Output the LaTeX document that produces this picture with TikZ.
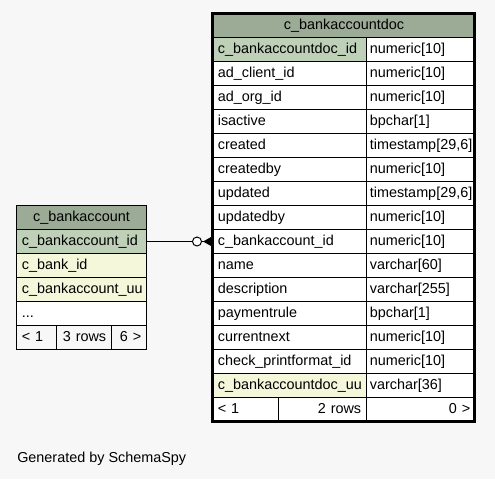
\documentclass[tikz,border=0pt]{standalone}
\usepackage{fontspec}
\setmainfont{Liberation Sans}
\usepackage{xcolor}
\definecolor{diagbg}{HTML}{F7F7F7}
\definecolor{headfill}{HTML}{9BAB96}
\definecolor{pkfill}{HTML}{BED1B8}
\definecolor{idxfill}{HTML}{F4F7DA}
\definecolor{footfill}{HTML}{F7F7F7}

\begin{document}
\begin{tikzpicture}[x=0.75pt,y=0.75pt,yscale=-1,xscale=1,
    cellbase/.style={draw, line width=0.75pt, anchor=north west, minimum height=18pt, inner xsep=4pt, inner ysep=0pt, text height=8pt, text depth=2.5pt, font=\fontsize{10.8}{12.6}\selectfont},
    headcell/.style={cellbase, fill=headfill, minimum width=#1, align=center},
    namecell/.style={cellbase, fill=white, text width=#1, align=left},
    typecell/.style={cellbase, fill=white, inner xsep=2.5pt, text width=76.75pt, align=left},
    rcell/.style={cellbase, fill=white, text width=#1, align=right}]
    %set diagram to 495 x 479
    \fill [diagbg] (0,0) rectangle (495,479);

    %Table: c_bankaccount
    \node [headcell=97.5pt] (ba) at (16,205) {c\_bankaccount};
    \node [namecell=89.5pt, fill=pkfill] (baid) at (16,229) {c\_bankaccount\_id};
    \node [namecell=89.5pt, fill=idxfill] (babank) at (16,253) {c\_bank\_id};
    \node [namecell=89.5pt, fill=idxfill] (bauu) at (16,277) {c\_bankaccount\_uu};
    \node [namecell=89.5pt] (bamore) at (16,301) {...};
    \node [namecell=22pt, fill=footfill] (baprev) at (16,325) {< 1};
    \node [rcell=33.25pt, fill=footfill] (barows) at (56,325) {3 rows};
    \node [rcell=18.25pt, fill=footfill] (banext) at (111,325) {6 >};

    %Table: c_bankaccountdoc
    \node [headcell=197.25pt] (doc) at (212,13) {c\_bankaccountdoc};
    \node [namecell=107.5pt, fill=pkfill] (docid) at (212,37) {c\_bankaccountdoc\_id};
    \node [typecell] (docidt) at (366,37) {numeric[10]};
    \node [namecell=107.5pt] (docclient) at (212,61) {ad\_client\_id};
    \node [typecell] (docclientt) at (366,61) {numeric[10]};
    \node [namecell=107.5pt] (docorg) at (212,85) {ad\_org\_id};
    \node [typecell] (docorgt) at (366,85) {numeric[10]};
    \node [namecell=107.5pt] (docactive) at (212,109) {isactive};
    \node [typecell] (docactivet) at (366,109) {bpchar[1]};
    \node [namecell=107.5pt] (doccreated) at (212,133) {created};
    \node [typecell] (doccreatedt) at (366,133) {timestamp[29,6]};
    \node [namecell=107.5pt] (doccreatedby) at (212,157) {createdby};
    \node [typecell] (doccreatedbyt) at (366,157) {numeric[10]};
    \node [namecell=107.5pt] (docupdated) at (212,181) {updated};
    \node [typecell] (docupdatedt) at (366,181) {timestamp[29,6]};
    \node [namecell=107.5pt] (docupdatedby) at (212,205) {updatedby};
    \node [typecell] (docupdatedbyt) at (366,205) {numeric[10]};
    \node [namecell=107.5pt] (docbaid) at (212,229) {c\_bankaccount\_id};
    \node [typecell] (docbaidt) at (366,229) {numeric[10]};
    \node [namecell=107.5pt] (docname) at (212,253) {name};
    \node [typecell] (docnamet) at (366,253) {varchar[60]};
    \node [namecell=107.5pt] (docdesc) at (212,277) {description};
    \node [typecell] (docdesct) at (366,277) {varchar[255]};
    \node [namecell=107.5pt] (docrule) at (212,301) {paymentrule};
    \node [typecell] (docrulet) at (366,301) {bpchar[1]};
    \node [namecell=107.5pt] (docnext) at (212,325) {currentnext};
    \node [typecell] (docnextt) at (366,325) {numeric[10]};
    \node [namecell=107.5pt] (docformat) at (212,349) {check\_printformat\_id};
    \node [typecell] (docformatt) at (366,349) {numeric[10]};
    \node [namecell=107.5pt, fill=idxfill] (docuu) at (212,373) {c\_bankaccountdoc\_uu};
    \node [typecell] (docuut) at (366,373) {varchar[36]};
    \node [namecell=41.5pt] (docprev) at (212,397) {< 1};
    \node [rcell=58pt] (docrows) at (278,397) {2 rows};
    \node [rcell=73.75pt] (docnextpage) at (366,397) {0 >};
    %Shape: thick outline of the table
    \draw [line width=2.25pt] (212.5,13.5) rectangle (474.5,421.5) ;

    %Straight Lines: c_bankaccount_id -> c_bankaccount_id
    \draw [line width=0.75pt] (baid.east) -- (docbaid.west) ;
    \draw [line width=0.75pt, fill=white] ([xshift=-11.25pt]docbaid.west) circle (4.5) ;
    \fill ([yshift=3.75pt]docbaid.west) -- ([xshift=-6.75pt]docbaid.west) -- ([yshift=-3.75pt]docbaid.west) -- cycle ;

    %Text: footer
    \node [anchor=west, inner sep=0pt, font=\fontsize{10.8}{12.6}\selectfont] (credit) at (17,459) {Generated by SchemaSpy};
\end{tikzpicture}
\end{document}
